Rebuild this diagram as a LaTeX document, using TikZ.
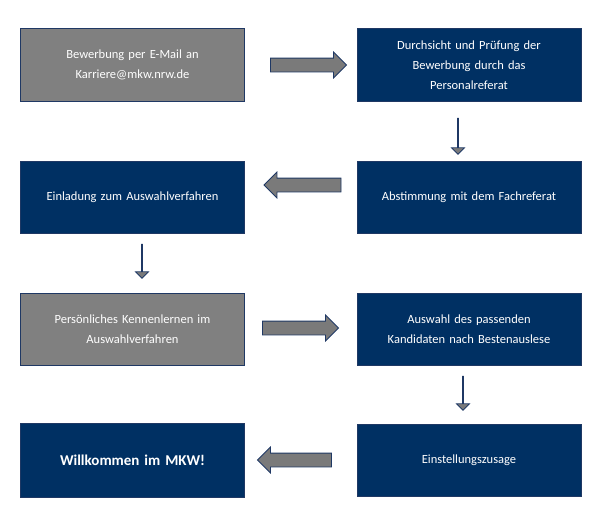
\documentclass[tikz,border=0pt]{standalone}
\usepackage{fontspec}
\setmainfont{Carlito}
\usetikzlibrary{shapes.arrows}
\definecolor{mkwblue}{RGB}{0,48,99}
\definecolor{mkwgray}{RGB}{128,128,128}
\definecolor{mkwedge}{RGB}{31,56,100}
\tikzset{
  box/.style={draw=mkwedge, line width=1pt, fill=mkwblue, text=white, minimum width=224pt, minimum height=72pt, text width=210pt, align=center, inner sep=0pt, font=\fontsize{12.5}{20}\selectfont},
  graybox/.style={box, fill=mkwgray},
  blockarrow/.style={single arrow, draw=mkwedge, line width=0.8pt, fill=mkwgray!95!black, inner xsep=0pt, inner ysep=6.5pt, single arrow head extend=6pt, single arrow tip angle=90, minimum height=#1}
}
\begin{document}
\begin{tikzpicture}[x=1pt, y=-1pt]
\useasboundingbox (0,0) rectangle (604,527);
\node [graybox] (bewerbung) at (132.5,65) {Bewerbung per E-Mail an\\Karriere@mkw.nrw.de};
\node [box] (durchsicht) at (469,65) {Durchsicht und Prüfung der\\Bewerbung durch das\\Personalreferat};
\node [box] (abstimmung) at (469,197) {Abstimmung mit dem Fachreferat};
\node [box] (einladung) at (132.5,197) {Einladung zum Auswahlverfahren};
\node [graybox] (kennenlernen) at (132.5,329) {Persönliches Kennenlernen im\\Auswahlverfahren};
\node [box] (auswahl) at (469,329) {Auswahl des passenden\\Kandidaten nach Bestenauslese};
\node [box] (zusage) at (469,460) {Einstellungszusage};
\node [box, minimum height=74pt, font=\fontsize{15}{20}\selectfont\bfseries] (willkommen) at (132.5,460) {Willkommen im MKW!};
% block arrows between the boxes
\node [blockarrow=76pt] (a1) at (305,65) {};
\node [blockarrow=36pt, shape border rotate=270] (a2) at (458,136) {};
\node [blockarrow=77pt, shape border rotate=180] (a3) at (306,185) {};
\node [blockarrow=34pt, shape border rotate=270] (a4) at (142,261) {};
\node [blockarrow=76pt] (a5) at (297,328) {};
\node [blockarrow=34pt, shape border rotate=270] (a6) at (463,393) {};
\node [blockarrow=74pt, shape border rotate=180] (a7) at (298,460) {};
\end{tikzpicture}
\end{document}
